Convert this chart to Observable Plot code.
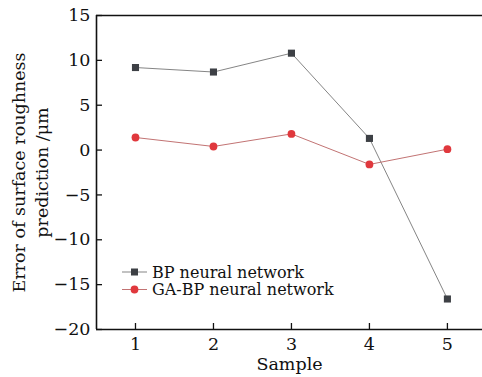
<!DOCTYPE html>
<html>
<head>
<meta charset="utf-8">
<script src="https://cdn.jsdelivr.net/npm/d3@7"></script>
<script src="https://cdn.jsdelivr.net/npm/@observablehq/plot@0.6"></script>
<style>
  html, body { margin: 0; padding: 0; background: #fff; }
  svg { display: block; }
</style>
</head>
<body>
<div id="chart"></div>
<script>
const samples = [1, 2, 3, 4, 5];
const bpErrors = [9.2, 8.7, 10.8, 1.3, -16.6];
const gabpErrors = [1.4, 0.4, 1.8, -1.6, 0.1];
const yTicks = [-20, -15, -10, -5, 0, 5, 10, 15];
const seriesNames = ["BP neural network", "GA-BP neural network"];

const bp = samples.map((s, i) => ({sample: s, value: bpErrors[i]}));
const gabp = samples.map((s, i) => ({sample: s, value: gabpErrors[i]}));

const font = "DejaVu Serif";
const minus = (d) => (d < 0 ? "\u2212" + Math.abs(d) : String(d));

const plot = Plot.plot({
  width: 482,
  height: 377,
  marginLeft: 96,
  marginRight: 0,
  marginTop: 15,
  marginBottom: 48,
  style: {fontFamily: font, fontSize: "17.5px", color: "#111", background: "#fff"},
  x: {domain: [0.5, 5.45]},
  y: {domain: [-20, 15]},
  marks: [
    Plot.axisY({ticks: yTicks, tickSize: -6, tickPadding: 12, tickFormat: minus, label: null, stroke: "#111", strokeWidth: 1.3, fill: "#111"}),
    Plot.axisX({ticks: samples, tickSize: -6, tickPadding: 14, tickFormat: (d) => String(d), label: null, stroke: "#111", strokeWidth: 1.3, fill: "#111"}),
    Plot.ruleY([-20, 15], {stroke: "#111", strokeWidth: 1.6}),
    Plot.ruleX([0.5], {stroke: "#111", strokeWidth: 1.6}),
    Plot.line(bp, {x: "sample", y: "value", stroke: "#858585", strokeWidth: 1}),
    Plot.line(gabp, {x: "sample", y: "value", stroke: "#c27373", strokeWidth: 1}),
    Plot.dot(bp, {x: "sample", y: "value", symbol: "square", r: 4, fill: "#3d4045", stroke: "none"}),
    Plot.dot(gabp, {x: "sample", y: "value", symbol: "circle", r: 3.9, fill: "#e0383d", stroke: "none"}),
    Plot.text(["Error of surface roughness\nprediction /\u03bcm"], {frameAnchor: "left", textAnchor: "middle", rotate: -90, dx: -67, lineHeight: 1.3, fontSize: 17.5, fill: "#111"}),
    Plot.text(["Sample"], {frameAnchor: "bottom", lineAnchor: "middle", dy: 35, fontSize: 17.5, fill: "#111"})
  ]
});

// Legend (inside the plot area, lower left)
const svg = d3.select(plot);
const legend = svg.append("g").attr("font-family", font).attr("font-size", 16).attr("text-anchor", "start");
const items = [
  {name: seriesNames[0], line: "#858585", fill: "#3d4045", sym: "square"},
  {name: seriesNames[1], line: "#c27373", fill: "#e0383d", sym: "circle"}
];
items.forEach((it, i) => {
  const y = 272 + i * 17.5;
  const g = legend.append("g").attr("transform", `translate(0,${y})`);
  g.append("line").attr("x1", 122).attr("x2", 147).attr("y1", 0).attr("y2", 0).attr("stroke", it.line).attr("stroke-width", 1);
  if (it.sym === "square") {
    g.append("rect").attr("x", 131).attr("y", -3.5).attr("width", 7).attr("height", 7).attr("fill", it.fill);
  } else {
    g.append("circle").attr("cx", 134.5).attr("cy", 0).attr("r", 3.9).attr("fill", it.fill);
  }
  g.append("text").attr("x", 152).attr("y", 0).attr("dy", "0.35em").attr("fill", "#111").text(it.name);
});

document.getElementById("chart").appendChild(plot);
</script>
</body>
</html>
